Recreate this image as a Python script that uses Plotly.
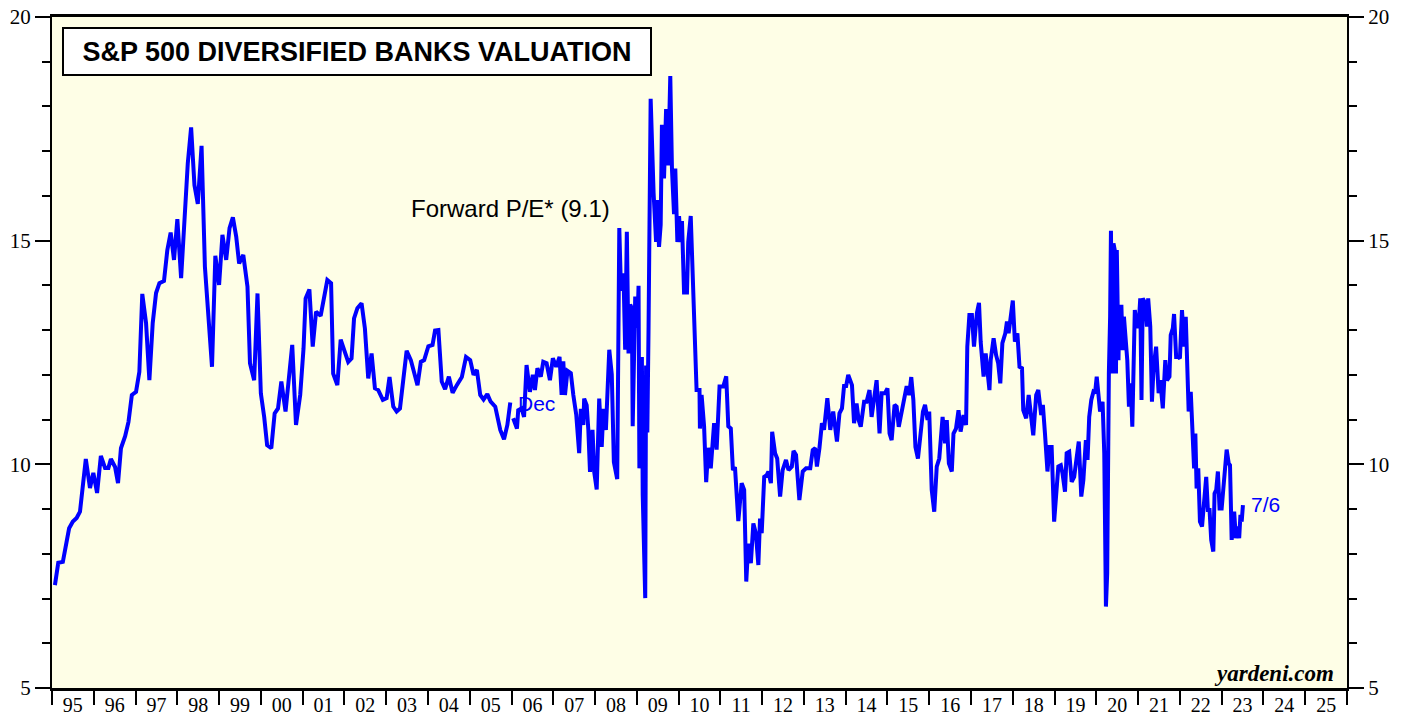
import datetime as dt
import plotly.graph_objects as go

# ---- data (decimal years, forward P/E) ----
monthly_year = [1995.07,1995.15,1995.26,1995.31,1995.41,1995.50,1995.59,1995.67,1995.81,1995.91,1995.99,
 1996.08,1996.17,1996.27,1996.35,1996.41,1996.51,1996.58,1996.65,1996.75,1996.83,1996.91,
 1997.01,1997.09,1997.16,1997.25,1997.33,1997.41,1997.49,1997.57,1997.68,1997.76,1997.84,1997.92,
 1998.00,1998.09,1998.17,1998.25,1998.33,1998.41,1998.49,1998.58,1998.66,1998.74,1998.83,1998.91,
 1999.00,1999.08,1999.17,1999.25,1999.33,1999.41,1999.48,1999.58,1999.68,1999.74,1999.84,1999.92,
 2000.00,2000.08,2000.15,2000.25,2000.33,2000.41,2000.49,2000.59,2000.67,2000.75,2000.84,2000.94,
 2001.02,2001.07,2001.16,2001.24,2001.32,2001.43,2001.59,2001.68,2001.73,2001.83,2001.91,
 2002.01,2002.09,2002.17,2002.23,2002.31,2002.41,2002.49,2002.57,2002.65,2002.73,2002.81,2002.92,
 2003.01,2003.08,2003.17,2003.25,2003.33,2003.49,2003.59,2003.75,2003.83,2003.91,
 2004.01,2004.11,2004.17,2004.25,2004.33,2004.41,2004.50,2004.59,2004.69,2004.81,2004.91,
 2005.01,2005.09,2005.17,2005.25,2005.33,2005.42,2005.50,2005.61,2005.73,2005.82,2005.90,2005.97]
monthly_pe = [7.30,7.80,7.82,8.08,8.57,8.72,8.80,8.94,10.12,9.47,9.81,
 9.36,10.19,9.92,9.92,10.12,9.94,9.58,10.36,10.63,10.95,11.55,
 11.62,12.07,13.81,13.16,11.88,13.16,13.83,14.05,14.10,14.79,15.18,14.57,
 15.48,14.16,15.46,16.73,17.53,16.24,15.82,17.12,14.42,13.30,12.18,14.66,
 14.01,15.13,14.57,15.28,15.52,15.09,14.49,14.68,13.97,12.26,11.88,13.82,
 11.59,11.06,10.43,10.36,11.14,11.25,11.85,11.18,12.00,12.67,10.88,11.55,
 12.59,13.71,13.91,12.63,13.41,13.32,14.12,14.05,12.03,11.77,12.79,
 12.48,12.29,12.37,13.26,13.49,13.60,13.04,11.92,12.48,11.70,11.66,11.44,
 11.48,11.95,11.29,11.18,11.25,12.54,12.33,11.77,12.29,12.33,
 12.64,12.67,12.99,13.00,11.85,11.68,11.96,11.60,11.77,11.95,12.40,
 12.33,12.00,12.11,11.55,11.45,11.57,11.40,11.29,10.77,10.56,10.88,11.38]

weekly_year = [2006.04,2006.13,2006.16,2006.24,2006.30,2006.36,2006.44,2006.51,2006.56,2006.62,2006.70,2006.76,2006.84,2006.92,2006.99,
 2007.07,2007.15,2007.20,2007.24,2007.28,2007.34,2007.42,2007.48,2007.55,2007.62,2007.66,2007.72,2007.74,2007.80,2007.84,2007.88,2007.94,2007.98,
 2008.04,2008.10,2008.16,2008.20,2008.26,2008.34,2008.40,2008.45,2008.53,2008.58,2008.62,2008.68,2008.72,2008.76,2008.80,2008.84,2008.88,2008.90,2008.96,
 2009.01,2009.04,2009.06,2009.12,2009.14,2009.20,2009.22,2009.25,2009.28,2009.33,2009.40,2009.46,2009.49,2009.53,2009.57,2009.60,2009.65,2009.70,2009.75,2009.80,2009.84,2009.89,2009.92,2009.97,
 2010.01,2010.05,2010.08,2010.13,2010.20,2010.23,2010.29,2010.34,2010.39,2010.43,2010.50,2010.51,2010.55,2010.61,2010.66,2010.71,2010.77,2010.85,2010.91,2010.98,
 2011.07,2011.14,2011.19,2011.25,2011.30,2011.35,2011.43,2011.51,2011.57,2011.62,2011.67,2011.73,2011.79,2011.85,2011.91,2011.95,2011.99,
 2012.05,2012.11,2012.15,2012.21,2012.24,2012.31,2012.36,2012.43,2012.49,2012.57,2012.63,2012.71,2012.75,2012.81,2012.89,2012.97,
 2013.05,2013.15,2013.21,2013.27,2013.31,2013.37,2013.43,2013.48,2013.56,2013.63,2013.70,2013.79,2013.85,2013.91,2013.96,
 2014.01,2014.06,2014.15,2014.20,2014.26,2014.31,2014.36,2014.44,2014.50,2014.57,2014.62,2014.68,2014.74,2014.81,2014.86,2014.94,
 2015.00,2015.05,2015.10,2015.17,2015.22,2015.27,2015.34,2015.40,2015.46,2015.52,2015.57,2015.62,2015.67,2015.73,2015.78,2015.85,2015.90,2015.96,
 2016.00,2016.06,2016.12,2016.18,2016.24,2016.32,2016.38,2016.42,2016.47,2016.54,2016.58,2016.64,2016.70,2016.75,2016.82,2016.88,2016.91,2016.96,
 2017.02,2017.07,2017.14,2017.19,2017.23,2017.30,2017.35,2017.40,2017.44,2017.47,2017.54,2017.60,2017.65,2017.70,2017.75,2017.82,2017.86,2017.90,2017.95,
 2018.00,2018.05,2018.11,2018.16,2018.22,2018.25,2018.32,2018.38,2018.44,2018.49,2018.56,2018.61,2018.68,2018.72,2018.77,2018.83,2018.88,2018.93,2018.99,
 2019.05,2019.09,2019.15,2019.19,2019.25,2019.29,2019.35,2019.41,2019.47,2019.53,2019.58,2019.64,2019.69,2019.75,2019.79,2019.83,2019.88,2019.93,2019.97,
 2020.01,2020.05,2020.09,2020.15,2020.19,2020.23,2020.26,2020.30,2020.33,2020.35,2020.38,2020.41,2020.44,2020.47,2020.49,2020.53,2020.55,2020.60,2020.63,2020.66,2020.70,2020.74,2020.78,2020.82,2020.86,2020.89,2020.92,2020.97,
 2021.01,2021.05,2021.08,2021.11,2021.17,2021.21,2021.24,2021.29,2021.33,2021.37,2021.43,2021.49,2021.53,2021.59,2021.65,2021.69,2021.75,2021.78,2021.83,2021.86,2021.91,2021.96,
 2022.00,2022.05,2022.10,2022.14,2022.18,2022.21,2022.26,2022.31,2022.34,2022.37,2022.40,2022.44,2022.48,2022.53,2022.58,2022.63,2022.67,2022.71,2022.75,2022.80,2022.83,2022.87,2022.91,2022.95,
 2023.00,2023.06,2023.12,2023.17,2023.20,2023.24,2023.30,2023.34,2023.38,2023.42,2023.45,2023.48,2023.51]
weekly_pe = [11.03,10.80,11.21,11.25,11.06,12.22,11.62,12.00,11.66,12.15,11.96,12.29,12.26,11.88,12.37,
 12.18,12.40,11.55,12.30,11.55,12.09,12.04,11.55,11.11,10.25,11.24,10.88,11.47,11.32,10.77,9.83,10.77,9.83,
 9.44,11.47,10.39,11.24,10.77,12.56,12.01,10.05,9.67,15.28,13.88,14.27,12.56,15.20,12.48,13.57,13.49,10.85,13.75,
 13.05,13.99,9.91,12.40,9.31,7.01,12.21,10.71,13.09,18.17,16.07,14.97,15.91,14.86,15.36,17.59,16.39,17.94,16.68,18.68,16.61,15.59,16.61,14.97,
 15.55,14.97,15.44,13.84,13.84,14.97,15.55,14.34,12.56,11.66,11.66,10.80,11.55,10.85,9.60,10.37,9.91,10.92,10.33,11.74,
 11.74,11.97,10.85,10.80,9.87,9.94,8.73,9.58,9.43,7.38,8.23,7.79,8.68,8.46,7.75,8.79,8.46,
 9.72,9.76,9.84,9.58,10.73,10.25,10.13,9.28,9.87,10.10,9.87,9.95,10.30,10.21,9.20,9.84,
 9.91,9.91,10.32,10.36,9.95,10.36,10.92,10.77,11.48,10.77,11.18,10.51,11.14,11.25,11.75,
 11.75,12.00,11.77,10.92,11.36,10.99,10.84,11.40,11.40,11.66,11.06,11.51,11.88,10.69,11.59,11.59,
 11.70,10.69,10.54,11.33,11.29,10.84,11.18,11.48,11.75,11.55,11.95,11.44,10.39,10.13,10.58,11.18,11.33,10.99,
 11.18,9.43,8.94,9.95,10.13,11.06,10.47,10.99,10.02,9.84,10.69,10.80,11.21,10.73,11.10,10.88,12.63,13.34,
 13.34,12.63,13.38,13.61,12.74,11.96,12.48,11.88,11.66,12.33,12.82,12.44,12.26,11.81,12.71,12.93,13.19,12.93,13.41,
 13.66,12.74,12.93,12.18,12.15,11.21,11.03,11.55,11.14,10.65,11.55,11.66,11.10,11.33,10.69,9.84,10.39,10.39,8.72,
 9.35,9.95,9.98,9.80,9.39,10.25,10.28,9.61,9.72,10.10,10.51,9.28,9.65,10.54,10.10,11.06,11.44,11.62,11.59,
 11.96,11.59,11.18,11.40,10.25,6.82,7.56,12.03,13.30,15.22,12.03,14.94,14.79,12.03,14.79,12.33,13.52,13.52,12.55,13.30,12.71,12.33,11.29,11.81,10.84,12.48,13.45,13.08,
 13.08,13.71,11.44,13.71,13.60,13.08,13.71,13.08,11.40,12.18,12.63,11.59,11.88,11.25,12.33,11.88,11.96,12.89,13.04,13.36,12.40,12.40,
 12.37,13.45,12.63,13.30,11.62,11.18,11.62,10.69,9.91,10.69,9.46,9.91,8.72,8.61,9.28,9.72,8.98,8.98,8.31,8.05,9.35,9.43,9.84,9.01,
 9.01,9.72,10.33,10.02,9.98,8.31,8.94,8.35,8.61,8.35,8.87,8.72,9.09]

y_ticks = [5, 10, 15, 20]
x_range = ["1995-01-01", "2026-01-01"]
title_text = "S&P 500 DIVERSIFIED BANKS VALUATION"
series_label = "Forward P/E* (9.1)"


def to_date(y):
    yr = int(y)
    a = dt.datetime(yr, 1, 1)
    b = dt.datetime(yr + 1, 1, 1)
    return a + (b - a) * (y - yr)


BLUE = "#0000ff"
SERIF = "Liberation Serif, Times New Roman, serif"
SANS = "Liberation Sans, Arial, sans-serif"

fig = go.Figure()
fig.add_trace(go.Scatter(x=[to_date(v) for v in monthly_year], y=monthly_pe, mode="lines",
                         line=dict(color=BLUE, width=4), showlegend=False, hoverinfo="x+y"))
# weekly part is drawn against the right-hand axis (identical range), so both axes carry data
fig.add_trace(go.Scatter(x=[to_date(v) for v in weekly_year], y=weekly_pe, mode="lines", yaxis="y2",
                         line=dict(color=BLUE, width=4), showlegend=False, hoverinfo="x+y"))

yfont = dict(family=SERIF, size=21, color="black")
xfont = dict(family=SERIF, size=20, color="black")
ycommon = dict(range=[5, 20], tickvals=y_ticks, ticks="outside", ticklen=15, tickwidth=1.5,
               tickcolor="black", showline=True, linecolor="black", linewidth=2,
               showgrid=False, zeroline=False, tickfont=yfont, automargin=False,
               ticklabeloverflow="allow",
               minor=dict(dtick=1, ticks="outside", ticklen=8, tickcolor="black", tickwidth=1.5))

fig.update_layout(
    width=1407, height=717,
    margin=dict(l=52, r=60, t=17, b=29, autoexpand=False),
    paper_bgcolor="white",
    plot_bgcolor="#fefee6",
    xaxis=dict(type="date", range=x_range, dtick="M12", tick0="1995-01-01",
               tickformat="%y", ticklabelmode="period", ticks="outside", ticklen=14,
               tickwidth=2, tickcolor="black", showline=True, linecolor="black", linewidth=3,
               mirror=True, showgrid=False, zeroline=False, tickfont=xfont, automargin=False,
               ticklabelstandoff=-17),
    yaxis=ycommon,
    yaxis2=dict(ycommon, overlaying="y", side="right"),
    annotations=[
        dict(text="<b>" + title_text.replace("&", "&amp;") + "</b>", xref="paper", yref="paper",
             x=0.0077, y=0.985, xanchor="left", yanchor="top", showarrow=False,
             width=586, height=45, bgcolor="white", bordercolor="black", borderwidth=2, borderpad=0,
             font=dict(family=SANS, size=27, color="black")),
        dict(text=series_label, xref="paper", yref="paper", x=0.3544, y=0.714,
             xanchor="center", yanchor="middle",
             showarrow=False, font=dict(family=SANS, size=24, color="black")),
        dict(text="Dec", xref="paper", yref="paper", x=0.3745, y=0.4247,
             xanchor="center", yanchor="middle",
             showarrow=False, font=dict(family=SANS, size=21, color=BLUE)),
        dict(text="7/6", xref="paper", yref="paper", x=0.9367, y=0.2742,
             xanchor="center", yanchor="middle",
             showarrow=False, font=dict(family=SANS, size=21, color=BLUE)),
        dict(text="<b><i>yardeni.com</i></b>", xref="paper", yref="paper", x=0.9915, y=0.0209,
             xanchor="right", yanchor="middle", showarrow=False,
             font=dict(family=SERIF, size=23, color="black")),
    ],
)

# remove the page's default body margin so the figure sits at the window's top-left corner
fig.write_html("out.html", config={"displayModeBar": False},
               post_script="document.body.style.margin='0px';")
